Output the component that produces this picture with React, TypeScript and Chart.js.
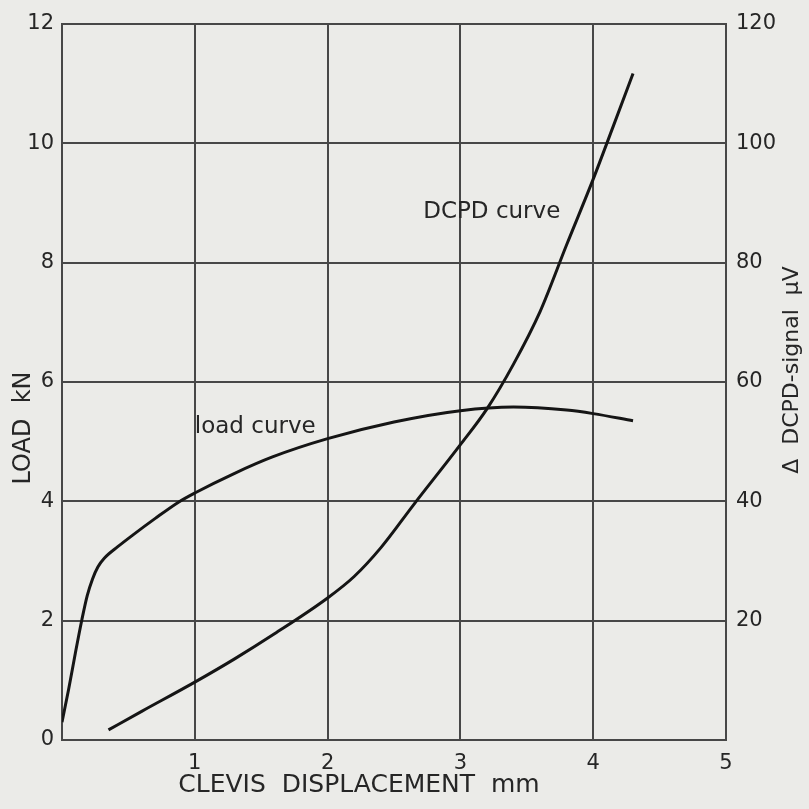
import React, { useEffect, useRef } from 'react';
import { Chart, registerables } from 'chart.js';

Chart.register(...registerables);

// Load curve (left axis, kN) vs clevis displacement (mm)
const loadX = [0, 0.05, 0.1, 0.15, 0.19, 0.23, 0.27, 0.32, 0.42, 0.53, 0.7, 0.88, 1.0, 1.3, 1.58, 2.0, 2.5, 3.0, 3.4, 3.8, 4.0, 4.3];
const loadKN = [0.3, 0.85, 1.45, 2.02, 2.42, 2.7, 2.9, 3.05, 3.24, 3.43, 3.71, 3.99, 4.14, 4.47, 4.74, 5.05, 5.33, 5.52, 5.58, 5.53, 5.47, 5.35];

// DCPD curve (right axis, µV) vs clevis displacement (mm)
const dcpdX = [0.35, 0.6, 1.0, 1.3, 1.6, 2.0, 2.2, 2.4, 2.65, 3.0, 3.2, 3.4, 3.6, 3.8, 4.0, 4.15, 4.3];
const dcpdUV = [1.7, 4.8, 9.7, 13.6, 17.8, 23.8, 27.4, 32.2, 39.5, 49.5, 55.5, 63, 71.8, 83, 94, 102.8, 111.7];

const xTickValues = [0, 1, 2, 3, 4, 5];
const loadTickValues = [0, 2, 4, 6, 8, 10, 12];
const dcpdTickValues = [0, 20, 40, 60, 80, 100, 120];

const xTitle = 'CLEVIS  DISPLACEMENT  mm';
const yLeftTitle = 'LOAD  kN';
const yRightTitle = 'Δ  DCPD-signal  μV';
const loadLabel = 'load curve';
const dcpdLabel = 'DCPD curve';

export default function App() {
  const ref = useRef<HTMLCanvasElement>(null);

  useEffect(() => {
    const FONT = '"DejaVu Sans", sans-serif';
    const ink = '#262626';
    const gridC = '#474747';

    const bg = {
      id: 'bg',
      beforeDraw(c: any) {
        const ctx = c.ctx;
        ctx.save();
        ctx.fillStyle = '#ebebe8';
        ctx.fillRect(0, 0, c.width, c.height);
        ctx.restore();
      },
    };

    const texts = {
      id: 'texts',
      afterDraw(c: any) {
        const { ctx, scales } = c;
        ctx.save();
        ctx.fillStyle = ink;
        ctx.textBaseline = 'middle';
        ctx.textAlign = 'left';
        ctx.font = `23px ${FONT}`;
        ctx.fillText(loadLabel, scales.x.getPixelForValue(1.0), scales.y.getPixelForValue(5.25));
        ctx.fillText(dcpdLabel, scales.x.getPixelForValue(2.72), scales.y2.getPixelForValue(88.5));

        ctx.textAlign = 'center';
        ctx.font = `25px ${FONT}`;
        ctx.fillText(xTitle, 359, 785);

        ctx.font = `24px ${FONT}`;
        ctx.save();
        ctx.translate(24, 428);
        ctx.rotate(-Math.PI / 2);
        ctx.fillText(yLeftTitle, 0, 0);
        ctx.restore();

        ctx.font = `22px ${FONT}`;
        ctx.save();
        ctx.translate(792, 370);
        ctx.rotate(-Math.PI / 2);
        ctx.fillText(yRightTitle, 0, 0);
        ctx.restore();
        ctx.restore();
      },
    };

    const tickFont = { family: FONT, size: 21 };

    const chart = new Chart(ref.current as HTMLCanvasElement, {
      type: 'scatter',
      data: {
        datasets: [
          {
            label: loadLabel,
            data: loadX.map((x, i) => ({ x, y: loadKN[i] })),
            yAxisID: 'y',
            showLine: true,
            borderColor: '#151515',
            borderWidth: 3,
            pointRadius: 0,
            cubicInterpolationMode: 'monotone',
            fill: false,
          },
          {
            label: dcpdLabel,
            data: dcpdX.map((x, i) => ({ x, y: dcpdUV[i] })),
            yAxisID: 'y2',
            showLine: true,
            borderColor: '#151515',
            borderWidth: 3,
            pointRadius: 0,
            cubicInterpolationMode: 'monotone',
            fill: false,
          },
        ],
      },
      options: {
        animation: false,
        responsive: false,
        layout: { padding: { top: 24, left: 0, right: 0, bottom: 0 } },
        plugins: { legend: { display: false }, tooltip: { enabled: false } },
        scales: {
          x: {
            type: 'linear',
            min: 0,
            max: 5,
            afterBuildTicks: (s: any) => {
              s.ticks = xTickValues.map((v) => ({ value: v }));
            },
            ticks: {
              callback: (v: any) => (v === 0 ? '' : String(v)),
              font: tickFont,
              color: ink,
              padding: 11,
              maxRotation: 0,
              autoSkip: false,
            },
            grid: { color: gridC, lineWidth: 2, drawTicks: false },
            border: { color: gridC, width: 2 },
            afterFit: (s: any) => {
              s.height = 69;
            },
          },
          y: {
            type: 'linear',
            position: 'left',
            min: 0,
            max: 12,
            afterBuildTicks: (s: any) => {
              s.ticks = loadTickValues.map((v) => ({ value: v }));
            },
            ticks: { font: tickFont, color: ink, padding: 8 },
            grid: { color: gridC, lineWidth: 2, drawTicks: false },
            border: { color: gridC, width: 2 },
            afterFit: (s: any) => {
              s.width = 62;
            },
          },
          y2: {
            type: 'linear',
            position: 'right',
            min: 0,
            max: 120,
            afterBuildTicks: (s: any) => {
              s.ticks = dcpdTickValues.map((v) => ({ value: v }));
            },
            ticks: {
              callback: (v: any) => (v === 0 ? '' : String(v)),
              font: tickFont,
              color: ink,
              padding: 10,
            },
            grid: { display: false, drawTicks: false },
            border: { color: gridC, width: 2 },
            afterFit: (s: any) => {
              s.width = 83;
            },
          },
        },
      },
      plugins: [bg, texts],
    } as any);

    return () => chart.destroy();
  }, []);

  return (
    <canvas
      ref={ref}
      width={809}
      height={809}
      style={{ position: 'fixed', left: 0, top: 0, display: 'block' }}
    />
  );
}
